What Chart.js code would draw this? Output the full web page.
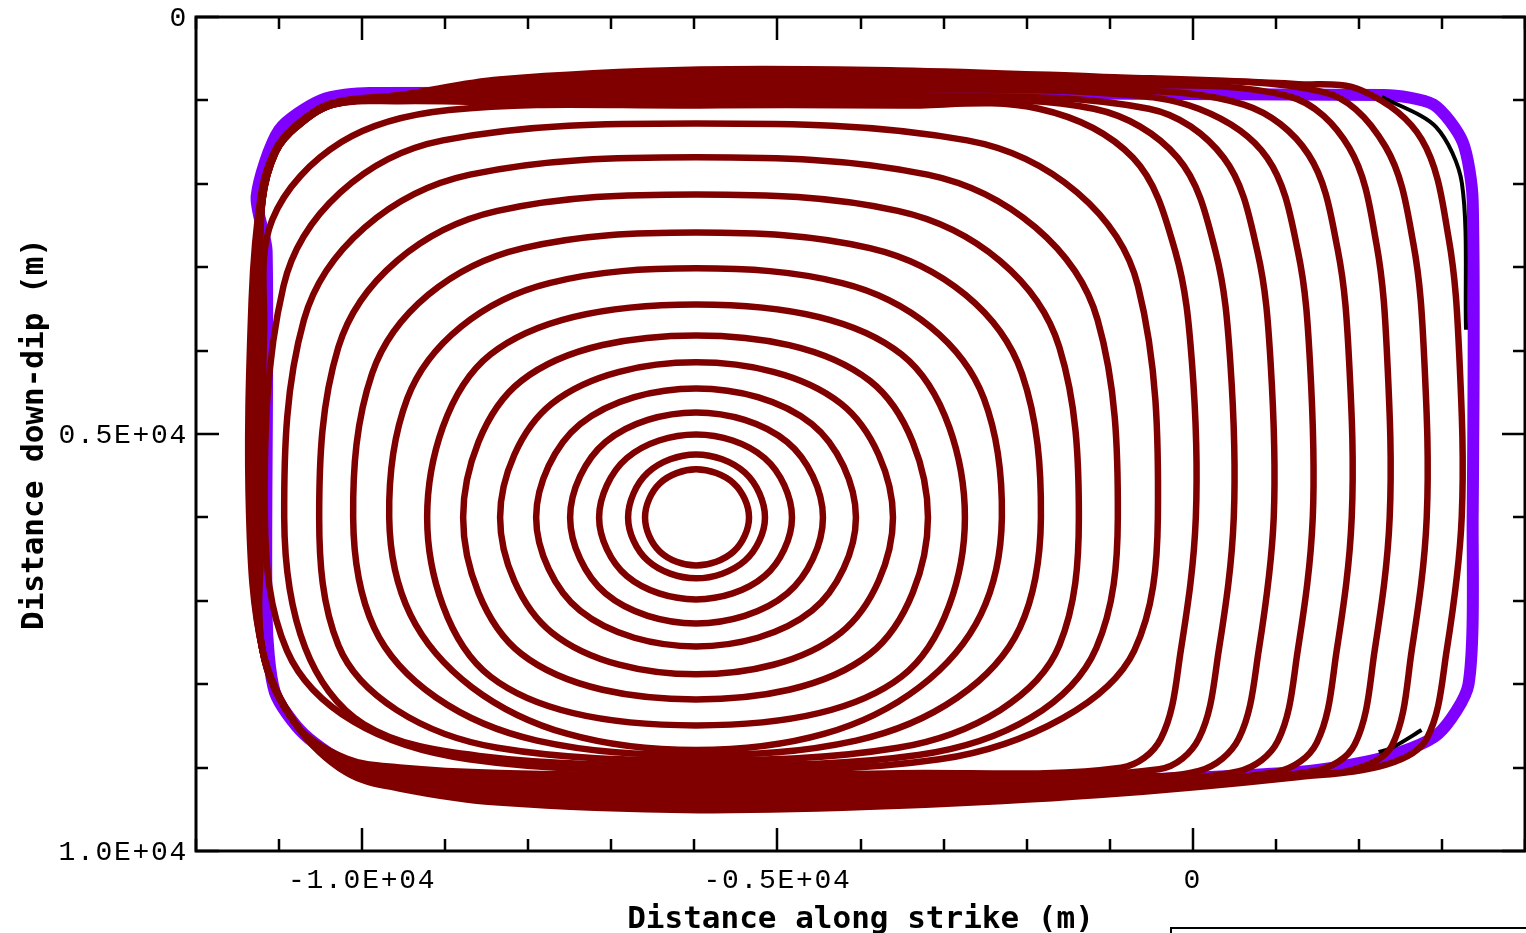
<!DOCTYPE html>
<html>
<head>
<meta charset="utf-8">
<title>Rupture front contours</title>
<script src="https://cdn.jsdelivr.net/npm/chart.js@4.4.1/dist/chart.umd.min.js"></script>
<style>
  html, body { margin: 0; padding: 0; background: #fff; overflow: hidden; }
</style>
</head>
<body>
<canvas id="myChart" width="1526" height="933"></canvas>
<script>
// axis text
const xTitle = 'Distance along strike (m)';
const yTitle = 'Distance down-dip (m)';
const xLabelValues = [-10000, -5000, 0];
const xLabelText = ['-1.0E+04', '-0.5E+04', '0'];
const yLabelValues = [0, 5000, 10000];
const yLabelText = ['0', '0.5E+04', '1.0E+04'];

// rupture front contours, [along strike, down dip] in metres
const contour01 = [[-5342,6000],[-5527,6409],[-5980,6576],[-6416,6409],[-6594,6000],[-6416,5591],[-5980,5424],[-5527,5591]];
const contour02 = [[-5150,6000],[-5391,6519],[-5980,6731],[-6561,6519],[-6798,6000],[-6561,5464],[-5980,5245],[-5391,5464]];
const contour03 = [[-4825,6000],[-5154,6703],[-5980,6983],[-6814,6703],[-7147,6000],[-6814,5289],[-5980,5005],[-5154,5289]];
const contour04 = [[-4452,6000],[-4883,6913],[-5980,7271],[-7069,6913],[-7496,6000],[-7069,5096],[-5980,4741],[-4883,5096]];
const contour05 = [[-4055,6000],[-4586,7120],[-5980,7547],[-7374,7120],[-7905,6000],[-7374,4880],[-5980,4453],[-4586,4880]];
const contour06 = [[-3609,6000],[-4237,7383],[-5980,7882],[-7714,7383],[-8339,6000],[-7714,4634],[-5980,4141],[-4237,4634]];
const contour07 = [[-3188,6000],[-3886,7637],[-5980,8182],[-8083,7637],[-8784,6000],[-8083,4363],[-5980,3818],[-3886,4363]];
const contour08 = [[-2743,6000],[-3504,7908],[-5980,8494],[-8456,7908],[-9217,6000],[-8456,4046],[-5980,3446],[-3504,4046]];
const contour09 = [[-2298,6000],[-2552,7166],[-3292,8037],[-4441,8597],[-5980,8790],[-7524,8597],[-8677,8037],[-9419,7166],[-9674,6000],[-9456,4573],[-8810,3713],[-7746,3190],[-5980,3014],[-4220,3190],[-3160,3713],[-2515,4573]];
const contour10 = [[-1828,6000],[-2081,7322],[-2833,8160],[-4053,8676],[-5980,8850],[-7895,8676],[-9109,8160],[-9856,7322],[-10108,6000],[-9881,4278],[-9204,3331],[-8061,2771],[-5980,2583],[-3887,2771],[-2737,3331],[-2056,4278]];
const contour11 = [[-1371,6000],[-1606,7534],[-2320,8311],[-3551,8762],[-5980,8910],[-8371,8762],[-9582,8311],[-10286,7534],[-10517,6000],[-10286,3959],[-9582,2925],[-8371,2325],[-5980,2127],[-3551,2325],[-2320,2925],[-1606,3959]];
const contour12 = [[-902,6000],[-1161,7565],[-1948,8400],[-3304,8850],[-5980,8970],[-8593,8860],[-9980,8480],[-10685,7565],[-10938,6000],[-10700,3630],[-9971,2525],[-8702,1890],[-5980,1683],[-3192,1890],[-1892,2525],[-1146,3630]];
const contour13 = [[-420,6000],[-704,7597],[-1565,8406],[-3050,8900],[-5980,9030],[-8715,8900],[-10101,8450],[-10905,7597],[-11170,6000],[-10947,3227],[-10262,2103],[-9027,1479],[-5980,1276],[-2716,1479],[-1393,2103],[-659,3227]];
const contour14 = [[37,6000],[-143,7590],[-383,8650],[-863,9000],[-3540,9067],[-5950,9090],[-8350,9064],[-9550,8998],[-10190,8892],[-10790,8490],[-11200,7590],[-11200,6000],[-11180,3800],[-11083,2434],[-10250,1500],[-8953,1115],[-5940,1060],[-3540,1062],[-1853,1100],[-719,1688],[-209,2815],[-10,4138]];
const contour15 = [[494,6000],[314,7590],[74,8650],[-406,9020],[-3540,9123],[-5950,9150],[-8350,9119],[-9550,9041],[-10190,8916],[-10790,8490],[-11200,7590],[-11220,6000],[-11230,3600],[-11200,2200],[-11040,1620],[-10790,1320],[-10350,1050],[-9550,1010],[-8350,1018],[-5940,995],[-3540,997],[-1191,1100],[-180,1688],[275,2815],[452,4138]];
const contour16 = [[975,6000],[795,7590],[555,8650],[75,9040],[-1130,9102],[-3540,9179],[-5950,9210],[-8350,9174],[-9550,9084],[-10190,8940],[-10790,8490],[-11200,7590],[-11250,6000],[-11260,3600],[-11200,2200],[-11040,1620],[-10790,1320],[-10350,1050],[-9550,995],[-8350,970],[-5940,930],[-3540,933],[-529,1100],[373,1688],[779,2815],[937,4138]];
const contour17 = [[1445,6000],[1265,7590],[1025,8680],[545,9045],[-1130,9148],[-3540,9234],[-5950,9270],[-8350,9229],[-9550,9127],[-10190,8964],[-10790,8490],[-11200,7590],[-11270,6000],[-11280,3600],[-11200,2200],[-11040,1620],[-10790,1320],[-10350,1050],[-9550,980],[-8350,923],[-5940,865],[-3540,869],[-1130,908],[72,1100],[896,1688],[1267,2815],[1411,4138]];
const contour18 = [[1914,6000],[1734,7590],[1494,8700],[1014,9050],[-1130,9193],[-3540,9290],[-5950,9330],[-8350,9284],[-9550,9170],[-10190,8988],[-10790,8490],[-11200,7590],[-11300,6000],[-11300,3600],[-11200,2200],[-11040,1620],[-10790,1320],[-10350,1050],[-9550,965],[-8350,876],[-5940,800],[-3540,806],[-1130,856],[614,1050],[1394,1650],[1745,2790],[1882,4120]];
const contour19 = [[2371,6000],[2191,7590],[1951,8720],[1471,9040],[-1130,9239],[-3540,9346],[-5950,9390],[-8350,9340],[-9550,9190],[-10190,9012],[-10790,8490],[-11200,7590],[-11320,6000],[-11310,3500],[-11205,2160],[-11045,1610],[-10795,1310],[-10355,1040],[-9550,950],[-8350,828],[-5940,735],[-3540,742],[-1130,807],[1155,950],[1885,1570],[2213,2730],[2341,4090]];
const contour20 = [[2817,6000],[2637,7590],[2397,8740],[1917,9030],[1275,9084],[-1130,9284],[-3540,9402],[-5950,9450],[-8350,9395],[-9550,9220],[-10190,9036],[-10790,8490],[-11200,7590],[-11340,6000],[-11320,3450],[-11210,2130],[-11048,1605],[-10798,1305],[-10358,1035],[-9550,940],[-8350,781],[-5940,670],[-3540,678],[-1130,756],[1576,900],[2321,1556],[2656,2718],[2786,4081]];
const contour21 = [[3238,6000],[3058,7590],[2818,8650],[2338,8960],[1275,9113],[-1130,9330],[-3540,9458],[-5950,9510],[-8350,9420],[-9550,9250],[-10190,9060],[-10790,8490],[-11200,7590],[-11360,6000],[-11330,3390],[-11215,2110],[-11050,1600],[-10800,1300],[-10360,1030],[-9550,935],[-8350,750],[-5940,630],[-3540,640],[-1130,715],[1275,805],[2033,880],[2756,1468],[3081,2653],[3208,4043]];

// edge of the fault area and the last (black) front near the right corners
const faultEdge = [[-11150,2800],[-11270,2150],[-11000,1355],[-10490,995],[-9915,910],[2300,935],[2900,1050],[3250,1500],[3370,2200],[3370,6000],[3320,8000],[2950,8600],[2300,8880],[1300,9050],[-1000,9150],[-9000,9150],[-10100,8990],[-10700,8600],[-11050,8100],[-11150,7200]];
const lastFrontTop = [[2278,958],[2928,1318],[3240,1990],[3290,3750]];
const lastFrontBottom = [[2755,8550],[2394,8765],[2238,8813]];

const contours = [contour01, contour02, contour03, contour04, contour05, contour06, contour07,
  contour08, contour09, contour10, contour11, contour12, contour13, contour14, contour15,
  contour16, contour17, contour18, contour19, contour20, contour21];

// closed curve: wrap one point on each side so the spline is smooth all round,
// and hide the two wrapped segments
function loopDataset(list, label, color, width, tension, order) {
  const n = list.length;
  const pts = [list[n - 1]].concat(list, [list[0], list[1]]);
  return {
    label: label,
    data: pts.map(p => ({ x: p[0], y: p[1] })),
    borderColor: color,
    borderWidth: width,
    tension: tension,
    order: order,
    borderCapStyle: 'round',
    segment: {
      borderColor: c => (c.p0DataIndex === 0 || c.p1DataIndex === n + 2) ? 'rgba(0,0,0,0)' : undefined
    }
  };
}

var datasets = [
  loopDataset(faultEdge, 'fault edge', '#8000ff', 12, 0.25, 2),
  { label: 'last front', data: lastFrontTop.map(p => ({ x: p[0], y: p[1] })), borderColor: '#000000', borderWidth: 4, tension: 0.3, order: 1 },
  { label: 'last front', data: lastFrontBottom.map(p => ({ x: p[0], y: p[1] })), borderColor: '#000000', borderWidth: 4, tension: 0.3, order: 1 }
];
contours.forEach((c, i) => {
  datasets.push(loopDataset(c, 'front ' + (i + 1), '#800000', 6.5, 0.35, 0));
});

// frame, inward ticks, labels and titles
const frame = {
  id: 'frame',
  afterDraw(chart) {
    const ctx = chart.ctx;
    const a = chart.chartArea;
    const xs = chart.scales.x, ys = chart.scales.y;
    ctx.save();
    ctx.strokeStyle = '#000';
    ctx.lineWidth = 3;
    ctx.strokeRect(a.left, a.top, a.right - a.left, a.bottom - a.top);

    ctx.lineWidth = 2.5;
    ctx.beginPath();
    xs.ticks.forEach(t => {
      const px = Math.round(xs.getPixelForValue(t.value));
      const len = xLabelValues.includes(t.value) ? 23 : 12;
      ctx.moveTo(px, a.bottom); ctx.lineTo(px, a.bottom - len);
      ctx.moveTo(px, a.top); ctx.lineTo(px, a.top + len);
    });
    ys.ticks.forEach(t => {
      const py = Math.round(ys.getPixelForValue(t.value));
      const len = yLabelValues.includes(t.value) ? 23 : 12;
      ctx.moveTo(a.left, py); ctx.lineTo(a.left + len, py);
      ctx.moveTo(a.right, py); ctx.lineTo(a.right - len, py);
    });
    ctx.stroke();

    ctx.fillStyle = '#000';
    ctx.font = '28px "Liberation Mono"';
    ctx.letterSpacing = '1.7px';
    ctx.textBaseline = 'alphabetic';
    ctx.textAlign = 'center';
    xLabelValues.forEach((v, i) => {
      ctx.fillText(xLabelText[i], xs.getPixelForValue(v), a.bottom + 37);
    });
    ctx.textAlign = 'right';
    yLabelValues.forEach((v, i) => {
      ctx.fillText(yLabelText[i], a.left - 8, ys.getPixelForValue(v) + 9);
    });

    // legend box, mostly off the page
    ctx.lineWidth = 2;
    ctx.beginPath();
    ctx.moveTo(1171, 934); ctx.lineTo(1171, 928); ctx.lineTo(1527, 928);
    ctx.stroke();

    ctx.letterSpacing = '0px';
    ctx.font = 'bold 31px "DejaVu Sans Mono"';
    ctx.textAlign = 'center';
    ctx.fillText(xTitle, (a.left + a.right) / 2, 928);
    ctx.translate(43, (a.top + a.bottom) / 2);
    ctx.rotate(-Math.PI / 2);
    ctx.fillText(yTitle, 0, 0);
    ctx.restore();
  }
};

var ctx = document.getElementById('myChart').getContext('2d');
var myChart = new Chart(ctx, {
  type: 'scatter',
  data: { datasets: datasets },
  options: {
    responsive: false,
    devicePixelRatio: 1,
    animation: false,
    showLine: true,
    elements: { point: { radius: 0 } },
    layout: { padding: { left: 196, top: 17, right: 1, bottom: 82 } },
    scales: {
      x: {
        type: 'linear', min: -12000, max: 4000, display: false,
        ticks: { stepSize: 1000, maxTicksLimit: 100 }
      },
      y: {
        type: 'linear', min: 0, max: 10000, reverse: true, display: false,
        ticks: { stepSize: 1000, maxTicksLimit: 100 }
      }
    },
    plugins: {
      legend: { display: false },
      tooltip: { enabled: false }
    }
  },
  plugins: [frame]
});
</script>
</body>
</html>
